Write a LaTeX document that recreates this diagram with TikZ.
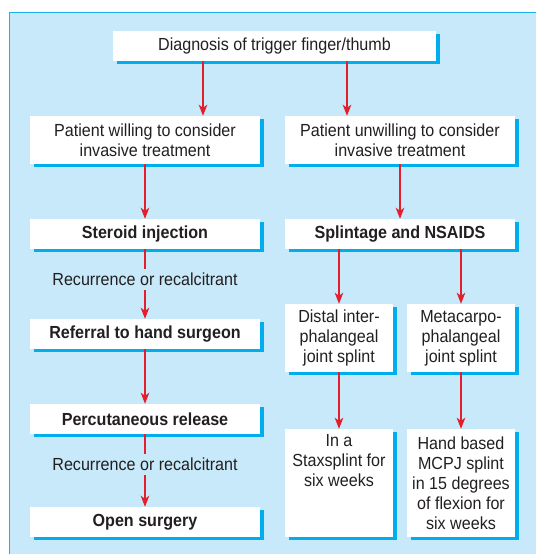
\documentclass[tikz,border=0pt]{standalone}
\usepackage{fontspec}
\setmainfont{Liberation Sans}[FakeStretch=0.92]
\usetikzlibrary{arrows.meta,shadows}
\definecolor{bgblue}{HTML}{C7E9F9}
\definecolor{frameblue}{HTML}{1BB2EC}
\definecolor{shadowblue}{HTML}{00AEEF}
\definecolor{arrowred}{HTML}{E41E2B}
\definecolor{txt}{HTML}{231F20}
\begin{document}
\begin{tikzpicture}[x=1pt,y=-1pt,
  box/.style={fill=white, inner sep=0pt, align=center, text=txt,
    font=\fontsize{17.5}{20}\selectfont,
    drop shadow={shadow xshift=3.5pt, shadow yshift=-3pt, fill=shadowblue, opacity=1}},
  widebox/.style={box, minimum width=230pt, minimum height=30pt},
  tallbox/.style={box, minimum width=230pt, minimum height=48pt},
  narrowbox/.style={box, minimum width=108pt, minimum height=68pt},
  bigbox/.style={box, minimum width=108pt, minimum height=108pt},
  bf/.style={font=\fontsize{17.5}{20}\selectfont\bfseries},
  arr/.style={draw=arrowred, line width=1.6pt, -{Stealth[length=11pt,width=8.5pt,inset=3pt]}},
  lbl/.style={fill=bgblue, text=txt, font=\fontsize{17.5}{20}\selectfont, inner xsep=2pt, inner ysep=4pt}]
\useasboundingbox (0,0) rectangle (536,554);
\fill[bgblue] (9,12) rectangle (536,554);
\draw[frameblue, line width=1pt] (9.5,554) -- (9.5,12.5) -- (536,12.5);

\node[box, minimum width=323pt, minimum height=30pt] (diag) at (274.5,46) {Diagnosis of trigger finger/thumb};
\node[tallbox] (will) at (145,140) {Patient willing to consider\\invasive treatment};
\node[tallbox] (unwill) at (400,140) {Patient unwilling to consider\\invasive treatment};
\node[widebox, bf] (ster) at (145,234) {Steroid injection};
\node[widebox, bf] (splint) at (400,234) {Splintage and NSAIDS};
\node[widebox, bf] (refer) at (145,334) {Referral to hand surgeon};
\node[narrowbox] (dist) at (339,338) {Distal inter-\\phalangeal\\joint splint};
\node[narrowbox] (meta) at (461,338) {Metacarpo-\\phalangeal\\joint splint};
\node[widebox, bf] (perc) at (145,419) {Percutaneous release};
\node[widebox, bf] (open) at (145,522) {Open surgery};
\node[bigbox] (stax) at (339,483) {In a\\Staxsplint for\\six weeks\\\strut\\\strut};
\node[bigbox] (hand) at (461,483) {Hand based\\MCPJ splint\\in 15 degrees\\of flexion for\\six weeks};

\coordinate (xl) at (203,0);
\coordinate (xr) at (347,0);
\draw[arr] (diag.south -| xl) -- (will.north -| xl);
\draw[arr] (diag.south -| xr) -- (unwill.north -| xr);
\draw[arr] (will) -- (ster);
\draw[arr] (unwill) -- (splint);
\draw[arr] (ster) -- node[lbl, pos=0.43] (rec1) {Recurrence or recalcitrant} (refer);
\draw[arr] (splint.south -| dist.north) -- (dist.north);
\draw[arr] (splint.south -| meta.north) -- (meta.north);
\draw[arr] (refer) -- (perc);
\draw[arr] (perc) -- node[lbl, pos=0.42] (rec2) {Recurrence or recalcitrant} (open);
\draw[arr] (dist) -- (stax);
\draw[arr] (meta) -- (hand);
\end{tikzpicture}
\end{document}
